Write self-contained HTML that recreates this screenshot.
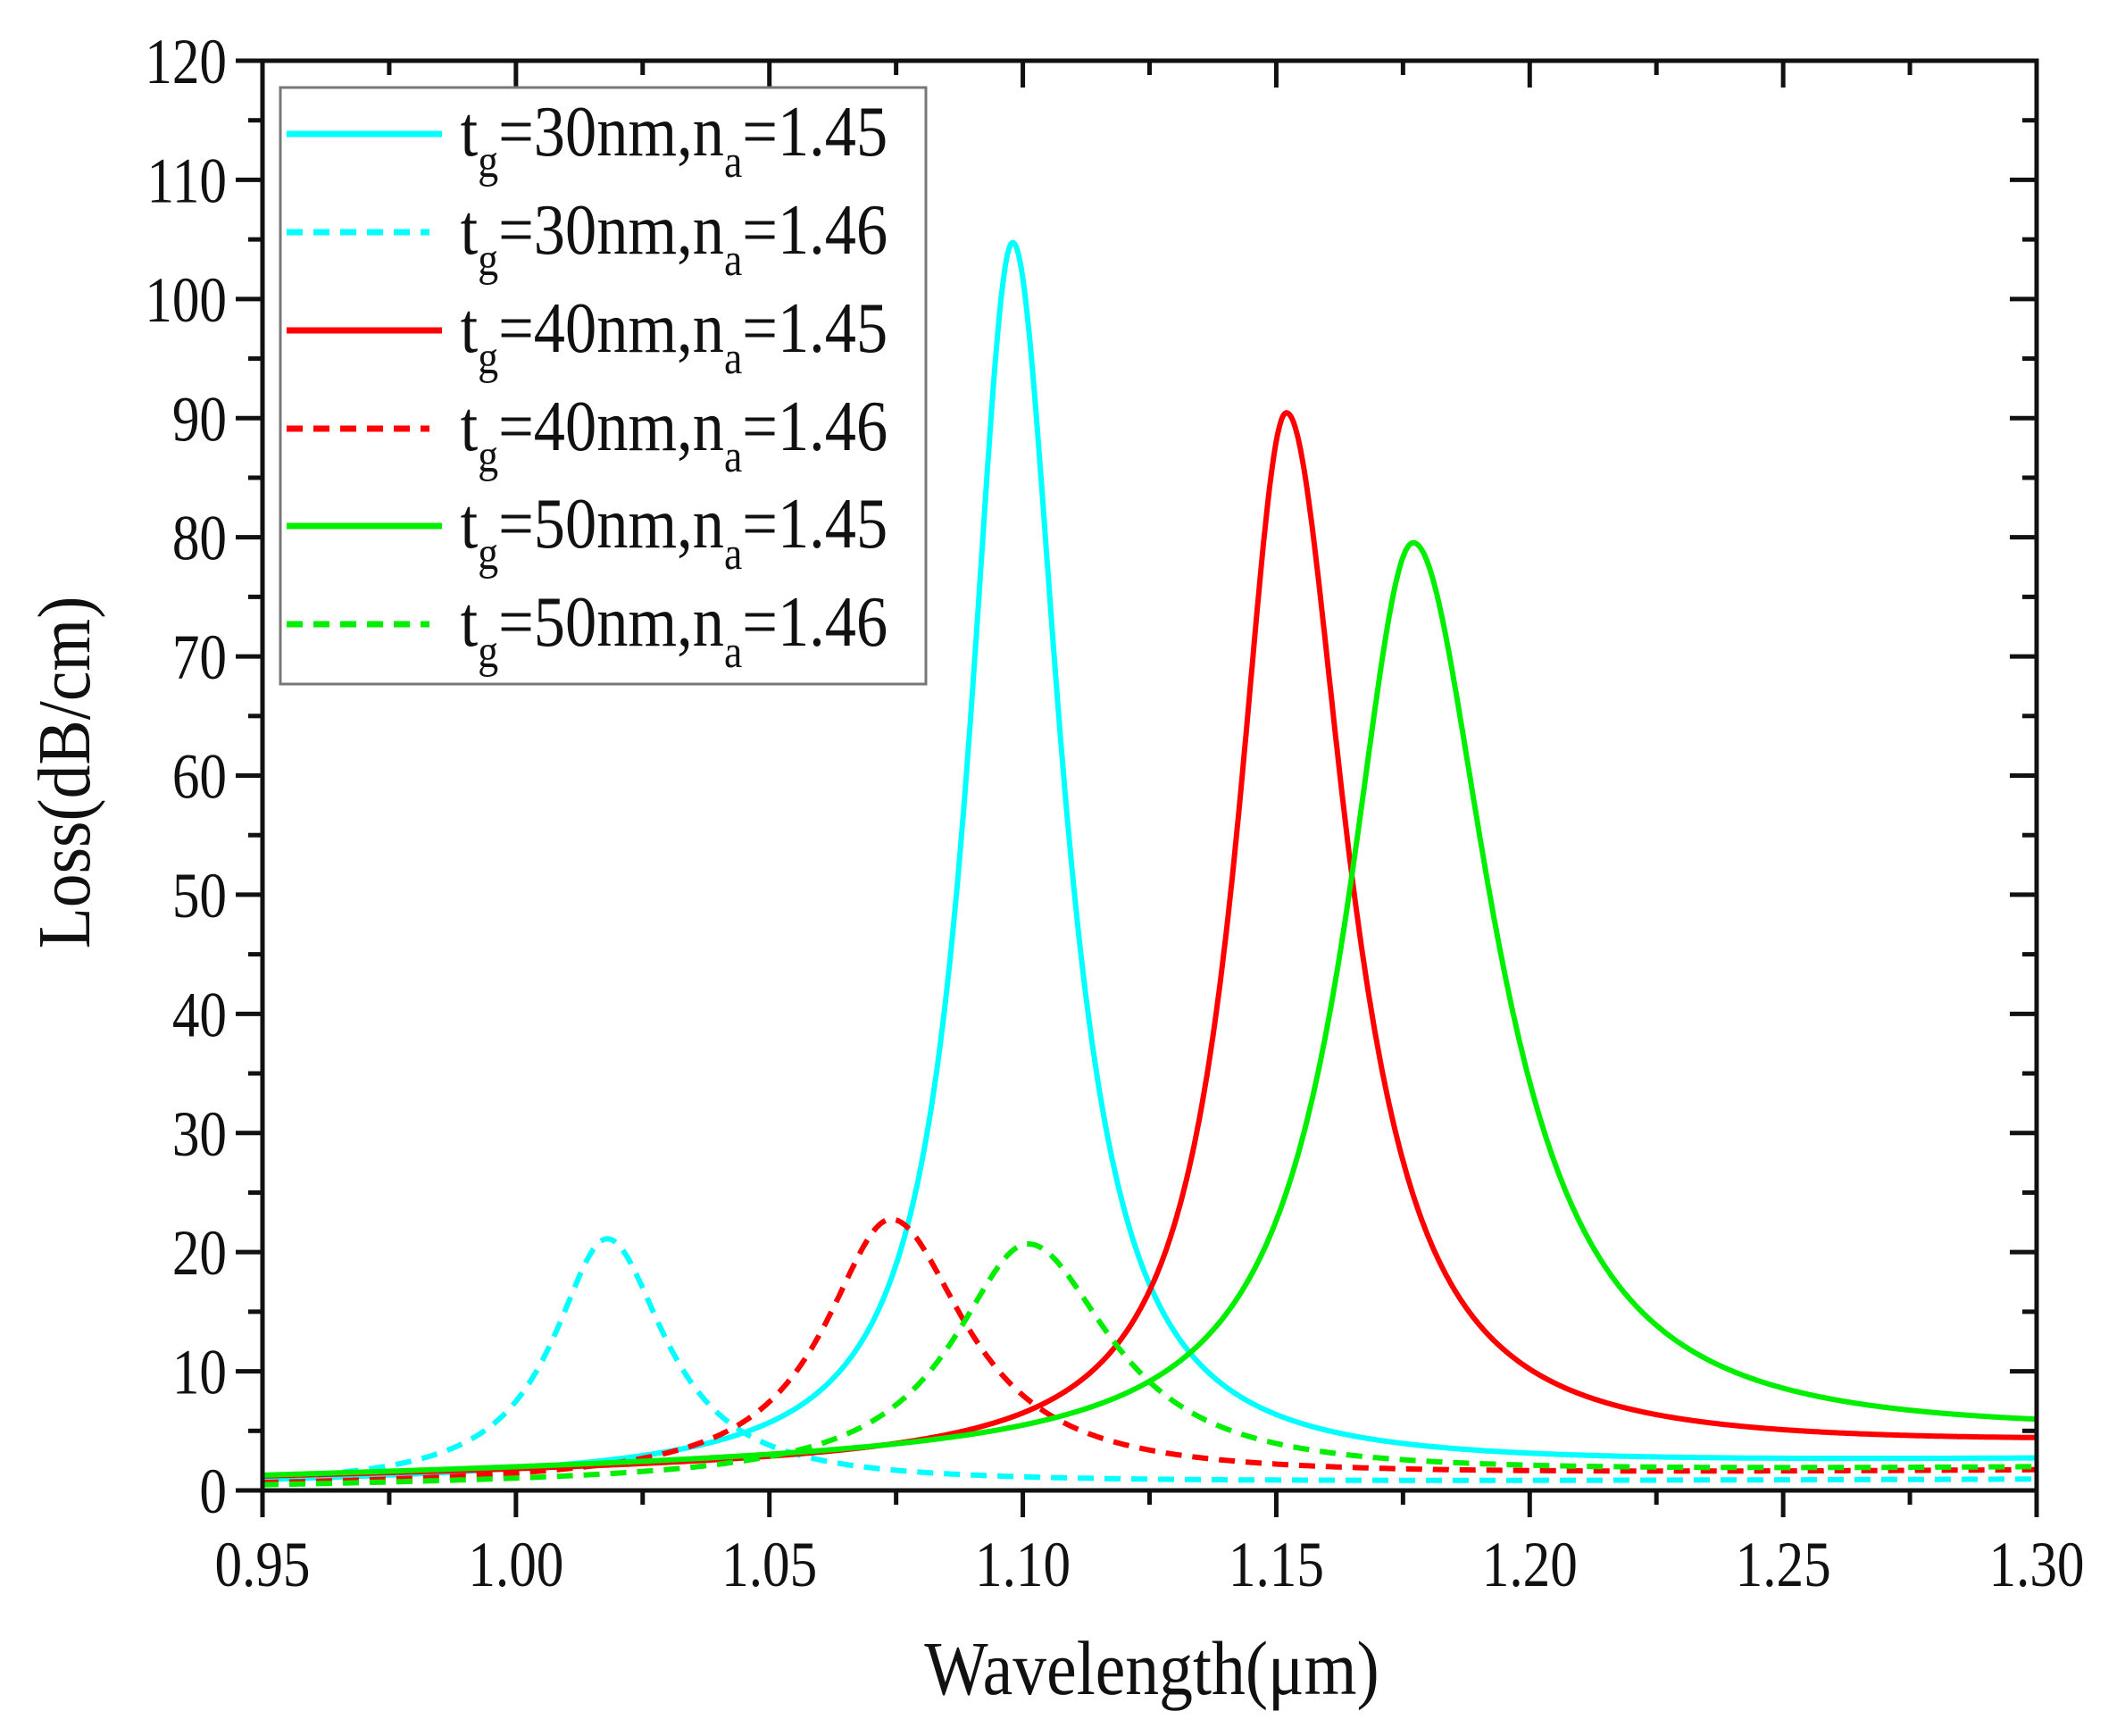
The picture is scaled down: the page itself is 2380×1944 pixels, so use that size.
<!DOCTYPE html>
<html><head><meta charset="utf-8">
<style>
html,body{margin:0;padding:0;background:#fff;}
svg{display:block;}
text{font-family:"Liberation Serif","DejaVu Serif",serif;fill:#111;}
</style></head>
<body>
<svg id="s" width="2380" height="1944" viewBox="0 0 2380 1944" xmlns="http://www.w3.org/2000/svg">
<rect width="2380" height="1944" fill="#fff"/>
<g id="curves"></g>
<g id="axes"></g>
<rect x="314" y="98" width="723" height="668" fill="#fff" stroke="#777" stroke-width="3"/>
<g stroke-width="7" fill="none">
<line x1="321" y1="150" x2="495" y2="150" stroke="#00ffff"/>
<line x1="321" y1="260" x2="481" y2="260" stroke="#00ffff" stroke-dasharray="18,12"/>
<line x1="321" y1="370" x2="495" y2="370" stroke="#ff0000"/>
<line x1="321" y1="480" x2="481" y2="480" stroke="#ff0000" stroke-dasharray="18,12"/>
<line x1="321" y1="589" x2="495" y2="589" stroke="#00ee00"/>
<line x1="321" y1="699" x2="481" y2="699" stroke="#00ee00" stroke-dasharray="18,12"/>
</g>
<g font-size="80" transform="scale(0.88,1)">
<text x="586" y="174">t<tspan font-size="52" dy="24">g</tspan><tspan dy="-24">=30nm,n</tspan><tspan font-size="52" dy="24">a</tspan><tspan dy="-24">=1.45</tspan></text>
<text x="586" y="284">t<tspan font-size="52" dy="24">g</tspan><tspan dy="-24">=30nm,n</tspan><tspan font-size="52" dy="24">a</tspan><tspan dy="-24">=1.46</tspan></text>
<text x="586" y="394">t<tspan font-size="52" dy="24">g</tspan><tspan dy="-24">=40nm,n</tspan><tspan font-size="52" dy="24">a</tspan><tspan dy="-24">=1.45</tspan></text>
<text x="586" y="504">t<tspan font-size="52" dy="24">g</tspan><tspan dy="-24">=40nm,n</tspan><tspan font-size="52" dy="24">a</tspan><tspan dy="-24">=1.46</tspan></text>
<text x="586" y="613">t<tspan font-size="52" dy="24">g</tspan><tspan dy="-24">=50nm,n</tspan><tspan font-size="52" dy="24">a</tspan><tspan dy="-24">=1.45</tspan></text>
<text x="586" y="723">t<tspan font-size="52" dy="24">g</tspan><tspan dy="-24">=50nm,n</tspan><tspan font-size="52" dy="24">a</tspan><tspan dy="-24">=1.46</tspan></text>
</g>
<text transform="translate(1290,1897) scale(0.88,1)" font-size="86" text-anchor="middle">Wavelength(μm)</text>
<text transform="translate(100,865) rotate(-90) scale(0.9,1)" font-size="84" text-anchor="middle">Loss(dB/cm)</text>
</svg>
<script>
var X0=294,X1=2281,Y0=1669,YT=68;
function px(l){return X0+(l-0.95)/0.35*(X1-X0);}
function py(v){return Y0-v*(Y0-YT)/120;}
var ns="http://www.w3.org/2000/svg";
function el(p,t,a){var e=document.createElementNS(ns,t);for(var k in a)e.setAttribute(k,a[k]);p.appendChild(e);return e;}
var C=document.getElementById("curves"),A=document.getElementById("axes");
var series=[
 {c:"#00ffff",d:0,x0:1.098,A:103.5,wl:0.0105,wr:0.0115,b0:0.4,b1:2.4},
 {c:"#00ffff",d:1,x0:1.018,A:20.7,wl:0.013,wr:0.014,b0:0.3,b1:0.9},
 {c:"#ff0000",d:0,x0:1.152,A:88.0,wl:0.012,wr:0.0145,b0:0.9,b1:3.6},
 {c:"#ff0000",d:1,x0:1.074,A:22.0,wl:0.016,wr:0.018,b0:0.3,b1:1.6},
 {c:"#00ee00",d:0,x0:1.177,A:76.5,wl:0.016,wr:0.019,b0:0.9,b1:4.2},
 {c:"#00ee00",d:1,x0:1.101,A:19.8,wl:0.018,wr:0.02,b0:0.2,b1:1.8}
];
series.forEach(function(s){
 var d="";
 for(var i=0;i<=1400;i++){var l=0.95+0.35*i/1400;var b=s.b0+(s.b1-s.b0)*(l-0.95)/0.35;
  var w=l<s.x0?s.wl:s.wr;
  var v=b+s.A/(1+Math.pow((l-s.x0)/w,2));
  d+=(i?"L":"M")+px(l).toFixed(1)+" "+py(v).toFixed(1);}
 var a={d:d,stroke:s.c,"stroke-width":6,fill:"none","stroke-linejoin":"round"};
 if(s.d)a["stroke-dasharray"]="18,12";
 el(C,"path",a);
});
el(A,"rect",{x:X0,y:YT,width:X1-X0,height:Y0-YT,stroke:"#111","stroke-width":5,fill:"none"});
var sx=0.85;
for(var v=0;v<=120;v+=5){var y=py(v),maj=v%10==0,L=maj?30:16;
 el(A,"line",{x1:X0-L,y1:y,x2:X0,y2:y,stroke:"#111","stroke-width":5});
 el(A,"line",{x1:X1,y1:y,x2:X1-L,y2:y,stroke:"#111","stroke-width":5});
 if(maj){var t=el(A,"text",{transform:"translate("+(X0-40)+","+(y+25)+") scale("+sx+",1)","font-size":72,"text-anchor":"end"});t.textContent=v;}
}
for(var i=0;i<=14;i++){var l=0.95+0.025*i,x=px(l),maj=i%2==0,L=maj?30:16;
 el(A,"line",{x1:x,y1:Y0,x2:x,y2:Y0+L,stroke:"#111","stroke-width":5});
 el(A,"line",{x1:x,y1:YT,x2:x,y2:YT+L,stroke:"#111","stroke-width":5});
 if(maj){var t=el(A,"text",{transform:"translate("+x+",1776) scale("+sx+",1)","font-size":72,"text-anchor":"middle"});t.textContent=l.toFixed(2);}
}
</script>
</body></html>
